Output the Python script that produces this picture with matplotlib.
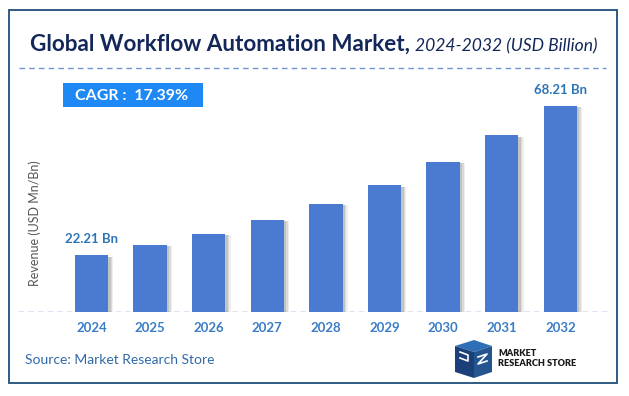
import matplotlib
matplotlib.use("Agg")
import matplotlib.pyplot as plt
from matplotlib.patches import Rectangle, Polygon

# data
years = ["2024", "2025", "2026", "2027", "2028", "2029", "2030", "2031", "2032"]
revenue = [22.21, 25.4, 28.8, 33.1, 38.0, 43.8, 51.0, 59.0, 68.21]
labelled = {0: "22.21 Bn", 8: "68.21 Bn"}
cagr_text = "CAGR :  17.39%"

W, H = 629, 396
plt.rcParams["font.family"] = ["Lato", "DejaVu Sans"]

fig = plt.figure(figsize=(W / 100, H / 100), dpi=100)
fig.patch.set_facecolor("white")

# background layer in pixel coordinates (y from top)
bg = fig.add_axes([0, 0, 1, 1])
bg.set_xlim(0, W)
bg.set_ylim(H, 0)
bg.axis("off")

bg.add_patch(Rectangle((9, 10), 608, 373, fill=False, edgecolor="#1f4e79", lw=1.3))
bg.plot([19, 606], [68, 68], ls=(0, (4, 3)), color="#6f95d0", lw=1.0)

# title in two parts
t1 = bg.text(30, 51, "Global Workflow Automation Market,", fontsize=16.2, fontweight="bold",
             color="#13275a", va="baseline", ha="left")
fig.canvas.draw()
bb = t1.get_window_extent().transformed(bg.transData.inverted())
bg.text(bb.x1 + 5, 51, "2024-2032 (USD Billion)", fontsize=12.6, style="italic",
        color="#13275a", va="baseline", ha="left")

# CAGR box
bg.add_patch(Rectangle((63, 83), 140, 24, facecolor="#1e88f5", edgecolor="none"))
bg.text(75, 95.5, cagr_text, fontsize=11.5, fontweight="bold", color="white",
        va="center", ha="left")

# y label
bg.text(35, 223, "Revenue (USD Mn/Bn)", fontsize=9, color="#555555", rotation=90,
        va="center", ha="center")

# source
bg.text(25, 360, "Source: Market Research Store", fontsize=10, color="#2f6aa8",
        va="center", ha="left")

# logo
bg.add_patch(Polygon([(455, 346), (474, 340), (492, 346), (474, 352)], facecolor="#2f6fb8"))
bg.add_patch(Polygon([(455, 346), (474, 352), (474, 378), (455, 372)], facecolor="#1b3f78"))
bg.add_patch(Polygon([(474, 352), (492, 346), (492, 372), (474, 378)], facecolor="#24558f"))
bg.plot([460, 468, 468, 460], [352, 355, 361, 358], color="white", lw=1.2)
bg.plot([478, 487, 478, 487], [357, 354, 364, 361], color="white", lw=1.2)
bg.text(498, 354, "MARKET", fontsize=6.6, fontweight="heavy", color="#1a1a1a",
        va="center", ha="left")
bg.text(498, 363, "RESEARCH STORE", fontsize=6.6, fontweight="heavy", color="#1a1a1a",
        va="center", ha="left")

# chart axes: baseline at y=312px, 58.6 px per category
ax = fig.add_axes([18 / W, 1 - 312 / H, 590 / W, 212 / H])
ax.set_xlim(-1.254, 8.814)
ax.set_ylim(4.75, 4.75 + 212 / 3.254)
ax.patch.set_alpha(0)
for s in ax.spines.values():
    s.set_visible(False)
ax.set_yticks([])
ax.tick_params(axis="x", length=0, pad=7)

x = list(range(len(years)))
for off, a in [(0.09, 0.12), (0.065, 0.18), (0.04, 0.25)]:
    ax.bar([i + off for i in x], [v - 0.5 for v in revenue], width=0.57, color="#808080",
           alpha=a, zorder=1, bottom=0)
ax.bar(x, revenue, width=0.57, color="#4a7bd1", zorder=2)
ax.axhline(4.75, color="#5b7fbf", ls=(0, (4, 3)), lw=1.0, zorder=3)

ax.set_xticks(x)
ax.set_xticklabels(years, fontsize=9.5, fontweight="bold", color="#3a7cc6")

for i, lab in labelled.items():
    ax.annotate(lab, (i, revenue[i]), xytext=(0, 7), textcoords="offset points",
                ha="center", va="bottom", fontsize=9.5, fontweight="bold", color="#2e75b6")

fig.savefig("out.png", dpi=100)
